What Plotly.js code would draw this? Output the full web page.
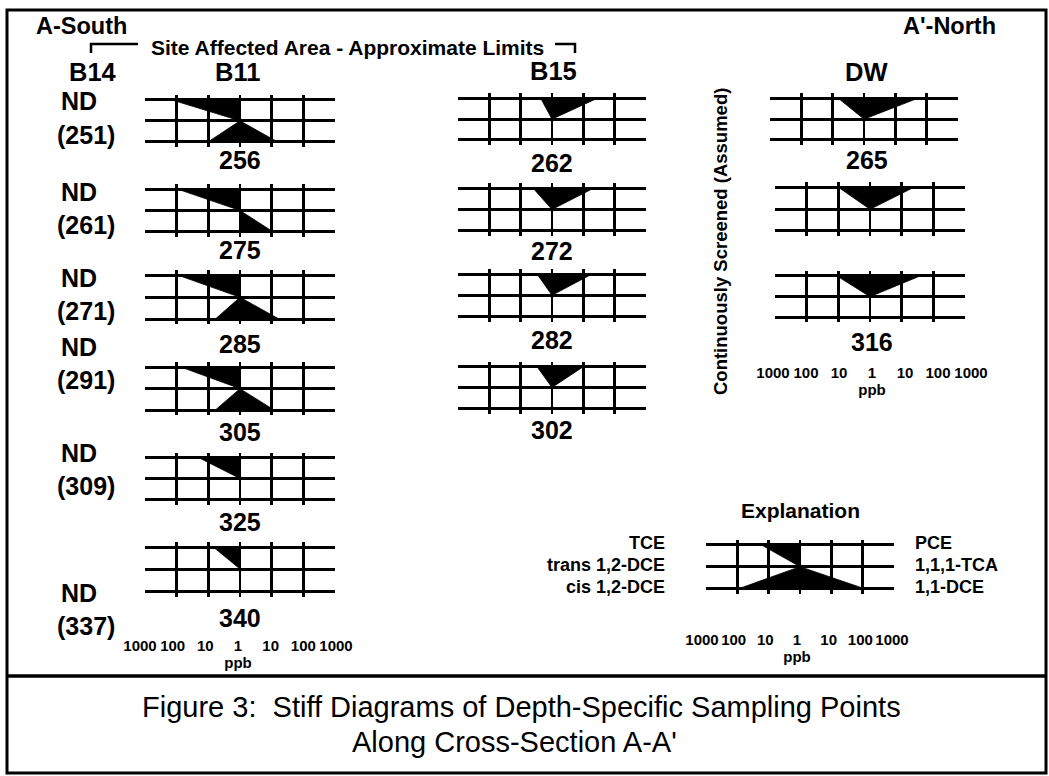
<!DOCTYPE html>
<html><head><meta charset="utf-8">
<script src="https://cdn.plot.ly/plotly-3.0.1.min.js"></script>
<style>html,body{margin:0;padding:0;background:#fff}#chart{width:1049px;height:776px}</style>
</head><body><div id="chart"></div>
<script>
// ---------------- DATA (concentrations in ppb, 0 = not detected) ----------------
const tickVals = [-3, -2, -1, 0, 1, 2, 3];
const tickText = tickVals.map(v => String(Math.pow(10, Math.abs(v))));

const b14_nd_depths = [251, 261, 271, 291, 309, 337];

const b11_depths = ["256", "275", "285", "305", "325", "340"];
const b11_TCE   = [140, 90, 85, 70, 20, 7];
const b11_trans = [0, 0, 0, 0, 0, 0];
const b11_cis   = [10, 0, 6, 6, 0, 0];
const b11_PCE   = [0, 0, 0, 0, 0, 0];
const b11_TCA   = [0, 0, 0, 0, 0, 0];
const b11_DCE11 = [15, 11, 17, 12, 0, 0];

const b15_depths = ["262", "272", "282", "302"];
const b15_TCE   = [2.3, 4, 3, 3];
const b15_trans = [0, 0, 0, 0];
const b15_cis   = [0, 0, 0, 0];
const b15_PCE   = [28, 21, 19, 10];
const b15_TCA   = [0, 0, 0, 0];
const b15_DCE11 = [0, 0, 0, 0];

const dw_depths = ["265", "", "316"];
const dw_TCE   = [6.6, 9.5, 11];
const dw_trans = [0, 0, 0];
const dw_cis   = [0, 0, 0];
const dw_PCE   = [52, 23, 38];
const dw_TCA   = [0, 0, 0];
const dw_DCE11 = [0, 0, 0];

const expl_TCE = [17], expl_trans = [0], expl_cis = [83];
const expl_PCE = [0], expl_TCA = [0], expl_DCE11 = [105];
const left_species  = ["TCE", "trans 1,2-DCE", "cis 1,2-DCE"];
const right_species = ["PCE", "1,1,1-TCA", "1,1-DCE"];

// ---------------- LAYOUT GEOMETRY (pixels) ----------------
const W = 1049, H = 776;
const fx = p => p / W, fy = p => 1 - p / H;
const FONT = "Liberation Sans, Arial, Helvetica, sans-serif";

const columns = [
  { name: "B11", depths: b11_depths, d: [b11_TCE, b11_trans, b11_cis, b11_PCE, b11_TCA, b11_DCE11],
    xl: [145,145,145,145,145,145], xr: [335,335,335,335,335,335],
    top: [100, 189.3, 275.5, 367.3, 457.7, 547], bot: [141.7, 231.7, 319, 410, 499.3, 591],
    lx: [240,240,240,240,240,240], ly: [160, 250, 344, 432, 522, 618] },
  { name: "B15", depths: b15_depths, d: [b15_TCE, b15_trans, b15_cis, b15_PCE, b15_TCA, b15_DCE11],
    xl: [458,458,458,458], xr: [646,646,646,646],
    top: [98.3, 188.3, 274, 366.7], bot: [140, 230.7, 316.7, 408.3],
    lx: [552,552,552,552], ly: [162.5, 251.5, 340, 430] },
  { name: "DW", depths: dw_depths, d: [dw_TCE, dw_trans, dw_cis, dw_PCE, dw_TCA, dw_DCE11],
    xl: [770,775,775], xr: [958,965,965],
    top: [98.3, 187.7, 276], bot: [140, 231, 317.3],
    lx: [867,870,872], ly: [160, 250, 341.5] },
  { name: "EXPL", depths: [""], d: [expl_TCE, expl_trans, expl_cis, expl_PCE, expl_TCA, expl_DCE11],
    xl: [706], xr: [894], top: [545], bot: [588.3], lx: [800], ly: [600] }
];

const L = v => (v > 1 ? Math.log10(v) : 0);

const traces = [];
const layout = {
  width: W, height: H, autosize: false,
  margin: { l: 0, r: 0, t: 0, b: 0, pad: 0 },
  paper_bgcolor: "#fff", plot_bgcolor: "rgba(0,0,0,0)",
  showlegend: false, font: { family: FONT, color: "#000" },
  annotations: [], shapes: []
};

let k = 0;
function axisName(k) { return k === 1 ? "" : String(k); }

columns.forEach(col => {
  col.depths.forEach((dep, i) => {
    k += 1;
    const n = axisName(k);
    const [tce, tr, cis, pce, tca, dce] = col.d.map(a => a[i]);
    traces.push({
      type: "scatter", mode: "lines", xaxis: "x" + n, yaxis: "y" + n,
      x: [-L(tce), -L(tr), -L(cis), L(dce), L(tca), L(pce), -L(tce)],
      y: [2, 1, 0, 0, 1, 2, 2],
      fill: "toself", fillcolor: "#000", line: { color: "#000", width: 0.8 },
      hoverinfo: "skip"
    });
    const s = (col.bot[i] - col.top[i]) / 2;
    layout["xaxis" + n] = {
      domain: [fx(col.xl[i]), fx(col.xr[i])], range: [-3, 3], anchor: "y" + n,
      tickvals: [-2, -1, 0, 1, 2], showgrid: true, gridcolor: "#000", gridwidth: 2.5,
      zeroline: true, zerolinecolor: "#000", zerolinewidth: 2.5,
      showticklabels: false, ticks: "", showline: false, fixedrange: true
    };
    layout["yaxis" + n] = {
      domain: [fy(col.bot[i] + 0.25 * s), fy(col.top[i] - 0.25 * s)], range: [-0.25, 2.25], anchor: "x" + n,
      tickvals: [0, 1, 2], showgrid: true, gridcolor: "#000", gridwidth: 3,
      zeroline: true, zerolinecolor: "#000", zerolinewidth: 3,
      showticklabels: false, ticks: "", showline: false, fixedrange: true
    };
    if (dep !== "") {
      layout.annotations.push({
        xref: "paper", yref: "paper", x: fx(col.lx[i]), y: fy(col.ly[i]),
        xanchor: "center", yanchor: "middle", showarrow: false,
        text: "<b>" + dep + "</b>", font: { size: 25, family: FONT }
      });
    }
  });
});

// ppb scale axes (tick label rows)
const scaleRows = [
  { xl: 140, xr: 336, y: 634 },
  { xl: 773, xr: 971, y: 361 },
  { xl: 702, xr: 892, y: 628 }
];
scaleRows.forEach(r => {
  k += 1;
  const n = axisName(k);
  traces.push({ type: "scatter", mode: "markers", x: [null], y: [null], xaxis: "x" + n, yaxis: "y" + n, hoverinfo: "skip" });
  layout["xaxis" + n] = {
    domain: [fx(r.xl), fx(r.xr)], range: [-3, 3], anchor: "y" + n,
    tickvals: tickVals, ticktext: tickText.map(t => "<b>" + t + "</b>"),
    tickfont: { size: 15, family: FONT }, ticks: "", showgrid: false, zeroline: false, showline: false,
    title: { text: "<b>ppb</b>", font: { size: 15, family: FONT }, standoff: 1 }, fixedrange: true
  };
  layout["yaxis" + n] = {
    domain: [fy(r.y + 1), fy(r.y)], range: [0, 1], anchor: "x" + n, visible: false, fixedrange: true
  };
});

// ---------------- TEXT ----------------
function ann(text, x, y, size, opts) {
  layout.annotations.push(Object.assign({
    xref: "paper", yref: "paper", x: fx(x), y: fy(y), xanchor: "center", yanchor: "middle",
    showarrow: false, text: text, font: { size: size, family: FONT, color: "#000" }
  }, opts || {}));
}
ann("<b>A-South</b>", 81, 26.5, 23.5);
ann("<b>A'-North</b>", 949, 26.5, 23.5);
ann("<b>Site Affected Area - Approximate Limits</b>", 149, 47, 21, { xanchor: "left" });
ann("<b>B14</b>", 93, 71.5, 25.5);
ann("<b>B11</b>", 237, 71.5, 25.5);
ann("<b>B15</b>", 553, 70.5, 25.5);
ann("<b>DW</b>", 866, 71.5, 25.5);

const ndY  = [101.5, 192, 278, 347, 453, 593];
const parY = [134.5, 225, 311, 380, 486, 626];
b14_nd_depths.forEach((d, i) => {
  ann("<b>ND</b>", 79, ndY[i], 25);
  ann("<b>(" + d + ")</b>", 86, parY[i], 25);
});

ann("<b>Continuously Screened (Assumed)</b>", 720, 242, 18.5, { textangle: -90 });
ann("<b>Explanation</b>", 800, 510, 21);
const specY = [542.7, 565, 587];
left_species.forEach((t, i) => ann("<b>" + t + "</b>", 667, specY[i], 18, { xanchor: "right" }));
right_species.forEach((t, i) => ann("<b>" + t + "</b>", 913, specY[i], 18, { xanchor: "left" }));

const CAP = "Liberation Sans Narrow, Arial Narrow, Liberation Sans, Arial, sans-serif";
ann("Figure 3:  Stiff Diagrams of Depth-Specific Sampling Points", 521, 707, 29, { font: { size: 29, family: CAP, color: "#000" } });
ann("Along Cross-Section A-A'", 514, 742, 29, { font: { size: 29, family: CAP, color: "#000" } });

// ---------------- FRAME / BRACKET ----------------
const P = (x, y) => fx(x) + "," + fy(y);
layout.shapes.push(
  { type: "rect", xref: "paper", yref: "paper", x0: fx(7), x1: fx(1046), y0: fy(10), y1: fy(773), line: { color: "#000", width: 3 } },
  { type: "line", xref: "paper", yref: "paper", x0: fx(7), x1: fx(1046), y0: fy(676), y1: fy(676), line: { color: "#000", width: 3.5 } },
  { type: "path", xref: "paper", yref: "paper", path: "M" + P(91, 53) + "L" + P(91, 44) + "L" + P(138, 44), line: { color: "#000", width: 2.5 } },
  { type: "path", xref: "paper", yref: "paper", path: "M" + P(555, 44) + "L" + P(575, 44) + "L" + P(575, 53), line: { color: "#000", width: 2.5 } }
);

Plotly.newPlot("chart", traces, layout, { staticPlot: true, displayModeBar: false });
</script>
</body></html>
